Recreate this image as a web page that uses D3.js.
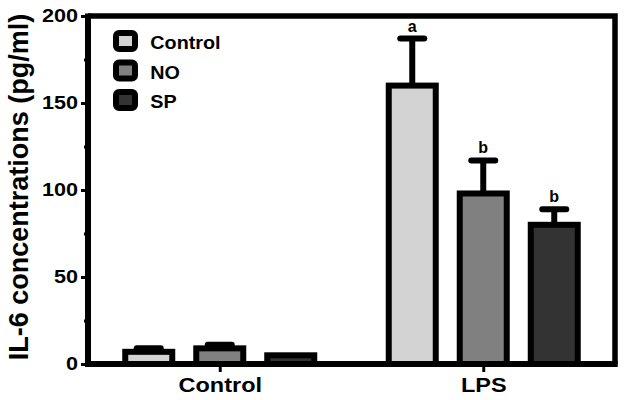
<!DOCTYPE html>
<html>
<head>
<meta charset="utf-8">
<script src="https://cdn.jsdelivr.net/npm/d3@7"></script>
<style>
  body { margin: 0; background: #fff; }
  text { font-family: Arial, "Liberation Sans", sans-serif; font-weight: bold; fill: #000; }
</style>
</head>
<body>
<div id="chart"></div>
<script>
var groups = ["Control", "LPS"]
var series = ["Control", "NO", "SP"]
var colors = ["#d3d3d3", "#808080", "#333333"]
var controlMeans = [7, 9, 5]
var controlErrors = [2, 2, 0]
var lpsMeans = [160, 98, 80]
var lpsErrors = [27, 19, 9]
var lpsLetters = ["a", "b", "b"]
var yTicks = [0, 50, 100, 150, 200]
var yMinorTicks = [25, 75, 125, 175]

var rows = []
series.forEach(function(s, i) {
    rows.push({group: "Control", series: s, color: colors[i], mean: controlMeans[i], err: controlErrors[i], letter: ""})
    rows.push({group: "LPS", series: s, color: colors[i], mean: lpsMeans[i], err: lpsErrors[i], letter: lpsLetters[i]})
})

// set the dimensions and margins of the graph
var margin = {top: 16, right: 9, bottom: 36, left: 88},
    width = 624 - margin.left - margin.right,
    height = 400 - margin.top - margin.bottom;

var svg = d3.select("#chart").append("svg")
    .attr("width", 624)
    .attr("height", 400)
  .append("g")
    .attr("transform", "translate(" + margin.left + "," + margin.top + ")");

var x = d3.scalePoint()
    .domain(groups)
    .range([0, width])
    .padding(0.5);

var xInner = d3.scaleBand()
    .domain(series)
    .range([-106.5, 106.5])
    .paddingInner(0.338)
    .paddingOuter(0.169);

var y = d3.scaleLinear()
    .domain([0, 200])
    .range([height, 0]);

// frame top and right
svg.append("path")
    .attr("d", "M0,0H" + width + "V" + height)
    .attr("fill", "none")
    .attr("stroke", "#000")
    .attr("stroke-width", 5.5);

// error bars
var eb = svg.selectAll(".err")
    .data(rows.filter(function(d) { return d.err > 0; }))
    .enter().append("g")
    .attr("transform", function(d) { return "translate(" + (x(d.group) + xInner(d.series) + xInner.bandwidth() / 2) + ",0)"; });

eb.append("line")
    .attr("y1", function(d) { return y(d.mean); })
    .attr("y2", function(d) { return y(d.mean + d.err); })
    .attr("stroke", "#000")
    .attr("stroke-width", 6);

eb.append("line")
    .attr("x1", -12).attr("x2", 12)
    .attr("y1", function(d) { return y(d.mean + d.err); })
    .attr("y2", function(d) { return y(d.mean + d.err); })
    .attr("stroke", "#000")
    .attr("stroke-width", 6)
    .attr("stroke-linecap", "round");

// bars
svg.selectAll(".bar")
    .data(rows)
    .enter().append("rect")
    .attr("class", "bar")
    .attr("x", function(d) { return x(d.group) + xInner(d.series); })
    .attr("y", function(d) { return y(d.mean); })
    .attr("width", xInner.bandwidth())
    .attr("height", function(d) { return height - y(d.mean); })
    .attr("fill", function(d) { return d.color; })
    .attr("stroke", "#000")
    .attr("stroke-width", 6);

// significance letters
svg.selectAll(".letter")
    .data(rows.filter(function(d) { return d.letter; }))
    .enter().append("text")
    .attr("x", function(d) { return x(d.group) + xInner(d.series) + xInner.bandwidth() / 2; })
    .attr("y", function(d) { return y(d.mean + d.err) - 7; })
    .attr("text-anchor", "middle")
    .style("font-size", "16px")
    .text(function(d) { return d.letter; });

// y axis
var yAxis = svg.append("g")
    .call(d3.axisLeft(y).tickValues(yTicks).tickSize(7).tickPadding(3).tickFormat(d3.format("d")));
yAxis.selectAll("text")
    .style("font-size", "18px")
    .attr("x", -10 / 1.2)
    .attr("transform", "scale(1.2,1)");
yAxis.selectAll("line").attr("stroke-width", 3);
yAxis.select(".domain").attr("stroke-width", 6).attr("d", "M0," + (height + 3) + "V-2.5");

svg.append("g")
    .call(d3.axisLeft(y).tickValues(yMinorTicks).tickSize(4).tickFormat(""))
    .call(function(g) { g.select(".domain").remove(); })
    .selectAll("line").attr("stroke-width", 3);

// x axis
var xAxis = svg.append("g")
    .attr("transform", "translate(0," + height + ")")
    .call(d3.axisBottom(x).tickSize(8).tickPadding(5));
xAxis.selectAll("text")
    .style("font-size", "21px")
    .attr("transform", "scale(1.12,1)");
xAxis.selectAll("line").attr("stroke-width", 3);
xAxis.select(".domain").attr("stroke-width", 6).attr("d", "M-3,0H" + (width + 2.75));

// y axis title
svg.append("text")
    .attr("transform", "translate(" + (-60) + "," + (height / 2 - 3) + ") rotate(-90)")
    .attr("text-anchor", "middle")
    .style("font-size", "27px")
    .text("IL-6 concentrations (pg/ml)");

// legend
var legend = svg.selectAll(".legend")
    .data(series)
    .enter().append("g")
    .attr("transform", function(d, i) { return "translate(28," + (17 + i * 29.5) + ")"; });

legend.append("rect")
    .attr("width", 19).attr("height", 16)
    .attr("rx", 3)
    .attr("fill", function(d, i) { return colors[i]; })
    .attr("stroke", "#000")
    .attr("stroke-width", 6);

legend.append("text")
    .attr("x", 33)
    .attr("y", 16)
    .style("font-size", "19px")
    .attr("transform", "scale(1.04,1)")
    .text(function(d) { return d; });
</script>
</body>
</html>
